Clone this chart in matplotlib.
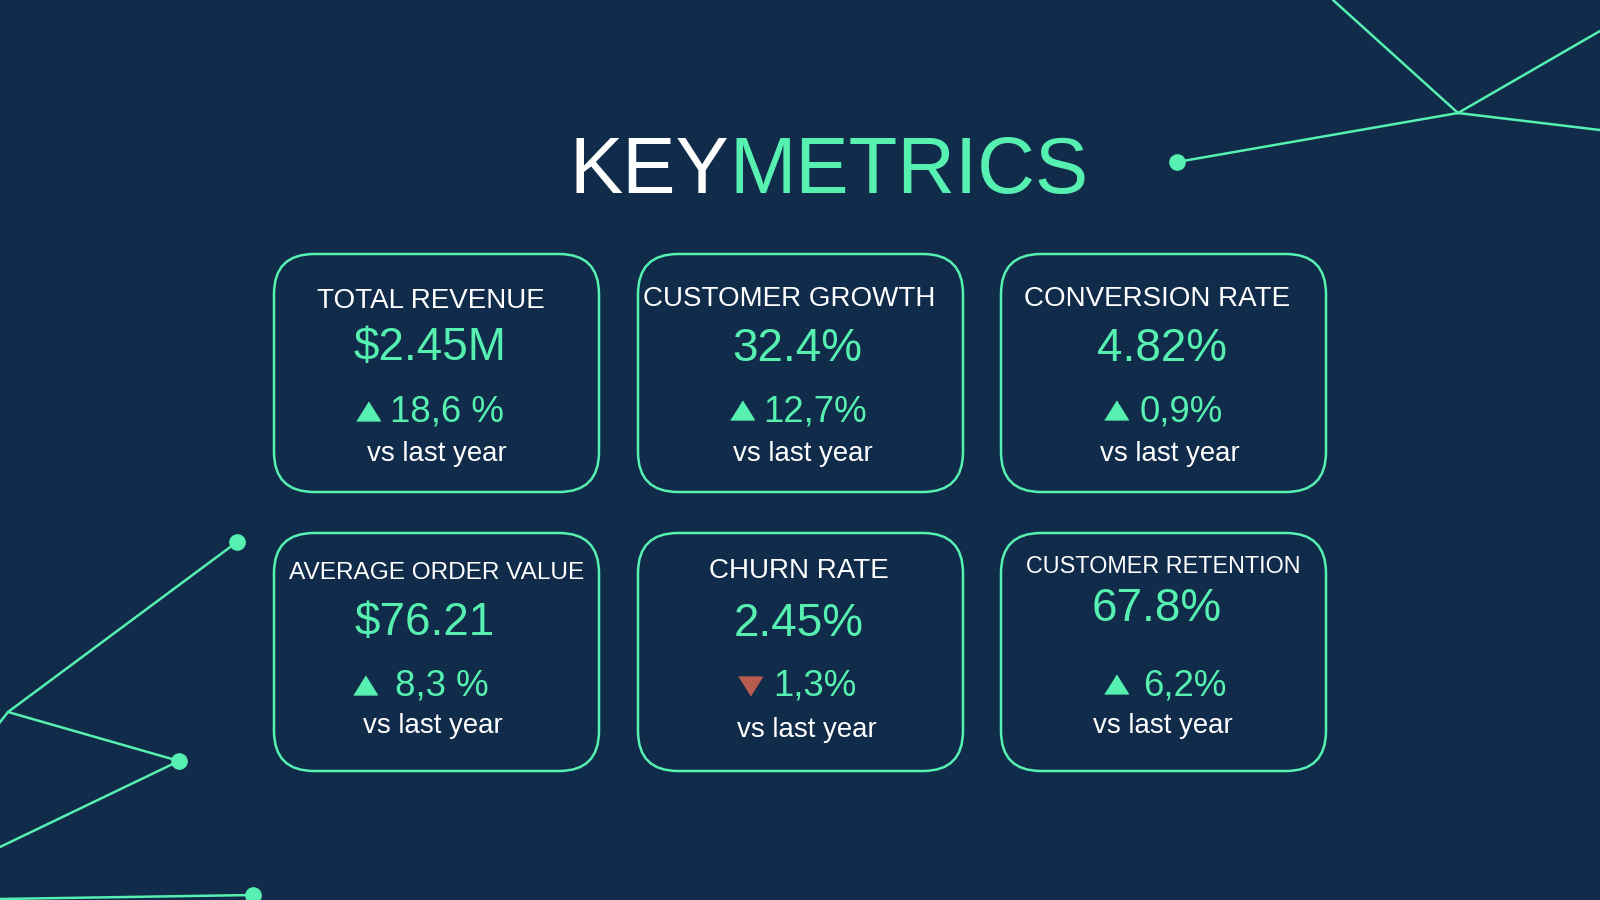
import matplotlib
matplotlib.use("Agg")
import matplotlib.pyplot as plt
from matplotlib.patches import FancyBboxPatch

# colours
BG = "#112b4a"
GREEN = "#56f0b0"
RED = "#b85c50"
WHITE = "#ffffff"

plt.rcParams['font.family'] = ['Liberation Sans', 'DejaVu Sans']

# data
titles = ["TOTAL REVENUE", "CUSTOMER GROWTH", "CONVERSION RATE",
          "AVERAGE ORDER VALUE", "CHURN RATE", "CUSTOMER RETENTION"]
values = ["$2.45M", "32.4%", "4.82%", "$76.21", "2.45%", "67.8%"]
changes = ["18,6 %", "12,7%", "0,9%", "8,3 %", "1,3%", "6,2%"]
directions = ["up", "up", "up", "up", "down", "up"]
subtitle = "vs last year"

# layout (pixel coords, y down)
card_x = [274, 638, 1001, 274, 638, 1001]
card_y = [254, 254, 254, 533, 533, 533]
card_w, card_h = 325, 238
title_pos = [(431, 308), (789, 306), (1157, 306), (437, 579), (799, 578), (1163, 573)]
title_size = [20, 20, 20, 17.6, 20, 16.8]
value_pos = [(430, 360), (797, 361), (1162, 361), (425, 635), (799, 636), (1157, 621)]
tri_pos = [(368, 411), (742, 410), (1116, 410), (365, 685), (750, 686), (1116, 684)]
change_pos = [(390, 422), (763, 422), (1140, 422), (395, 696), (773, 695), (1143, 696)]
sub_pos = [(437, 461), (803, 461), (1170, 461), (433, 733), (807, 737), (1163, 733)]

# background network lines
net_lines = [
    [(1333, 0), (1458, 113)],
    [(1458, 113), (1600, 31)],
    [(1458, 113), (1600, 130)],
    [(1458, 113), (1177, 162)],
    [(237, 542), (8, 712), (-10, 735)],
    [(8, 712), (179, 761), (0, 847)],
    [(253, 895), (0, 899)],
]
net_dots = [(1177, 162), (237, 542), (179, 761), (253, 895)]

fig = plt.figure(figsize=(16, 9), dpi=100, facecolor=BG)
ax = fig.add_axes([0, 0, 1, 1])
ax.set_facecolor(BG)
ax.set_xlim(0, 1600)
ax.set_ylim(900, 0)
ax.axis('off')

for seg in net_lines:
    xs = [p[0] for p in seg]
    ys = [p[1] for p in seg]
    ax.plot(xs, ys, color=GREEN, lw=1.8, solid_capstyle='round', zorder=1)
ax.plot([p[0] for p in net_dots], [p[1] for p in net_dots], 'o',
        color=GREEN, ms=11, zorder=2)

# title
ax.text(729, 193, "KEY", color=WHITE, fontsize=57.5, ha='right', va='baseline')
ax.text(729, 193, "METRICS", color=GREEN, fontsize=57.5, ha='left', va='baseline')

up_tri = [(-1, -0.8), (1, -0.8), (0, 0.8)]
down_tri = [(-1, 0.8), (1, 0.8), (0, -0.8)]

for i in range(len(titles)):
    box = FancyBboxPatch((card_x[i], card_y[i]), card_w, card_h,
                         boxstyle="round,pad=0,rounding_size=40",
                         fc=BG, ec=GREEN, lw=1.8, zorder=3)
    ax.add_patch(box)

    ax.text(*title_pos[i], titles[i], color=WHITE, fontsize=title_size[i],
            ha='center', va='baseline', zorder=4)
    ax.text(*value_pos[i], values[i], color=GREEN, fontsize=33,
            ha='center', va='baseline', zorder=4)

    if directions[i] == "up":
        ax.plot(*tri_pos[i], marker=up_tri, color=GREEN, ms=17, zorder=4)
    else:
        ax.plot(*tri_pos[i], marker=down_tri, color=RED, ms=17, zorder=4)
    ax.text(*change_pos[i], changes[i], color=GREEN, fontsize=26.4,
            ha='left', va='baseline', zorder=4)
    ax.text(*sub_pos[i], subtitle, color=WHITE, fontsize=19.9,
            ha='center', va='baseline', zorder=4)

fig.savefig("out.png", dpi=100, facecolor=BG)
